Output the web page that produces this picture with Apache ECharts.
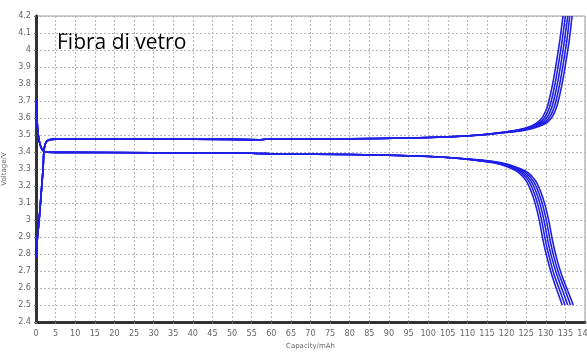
<!DOCTYPE html>
<html><head><meta charset="utf-8">
<script src="https://cdn.jsdelivr.net/npm/echarts@6/dist/echarts.min.js"></script>
<style>html,body{margin:0;padding:0;background:#fff}#c{width:587px;height:352px}</style>
</head><body><div id="c"></div>
<script>
const chartLabel = "Fibra di vetro";
const xName = "Capacity/mAh";
const yName = "Voltage/V";
const xTicks = {min: 0, max: 140, step: 5};
const yTicks = {min: 2.4, max: 4.2, step: 0.1};

const charge1 = [[0,2.78],[0.3,2.88],[0.8,3.0],[1.3,3.15],[1.8,3.3],[2.0,3.4],[2.4,3.45],[3.2,3.47],[5,3.476],[30,3.476],[50,3.474],[57,3.472],[60,3.477],[80,3.478],[95,3.482],[105,3.488],[113,3.50],[119,3.515],[123,3.53],[126,3.55],[128,3.575],[129.3,3.61],[130.3,3.66],[131.2,3.74],[132,3.83],[132.8,3.94],[133.6,4.06],[134.4,4.2]];
const charge2 = [[0,2.78],[0.3,2.88],[0.8,3.0],[1.3,3.15],[1.8,3.3],[2.0,3.4],[2.4,3.45],[3.2,3.47],[5,3.476],[30,3.476],[50,3.474],[57,3.472],[60,3.477],[80,3.478],[95,3.482],[105,3.489],[113,3.50],[119,3.516],[123.5,3.53],[126.5,3.55],[128.6,3.575],[129.9,3.61],[130.9,3.66],[131.8,3.74],[132.6,3.83],[133.4,3.94],[134.2,4.06],[135,4.2]];
const charge3 = [[0,2.78],[0.3,2.88],[0.8,3.0],[1.3,3.15],[1.8,3.3],[2.0,3.4],[2.4,3.45],[3.2,3.47],[5,3.476],[30,3.476],[50,3.474],[57,3.472],[60,3.477],[80,3.478],[95,3.482],[105,3.489],[113,3.50],[119.5,3.516],[124,3.53],[127,3.55],[129.2,3.575],[130.5,3.61],[131.5,3.66],[132.4,3.74],[133.2,3.83],[134,3.94],[134.8,4.06],[135.6,4.2]];
const charge4 = [[0,2.78],[0.3,2.88],[0.8,3.0],[1.3,3.15],[1.8,3.3],[2.0,3.4],[2.4,3.45],[3.2,3.47],[5,3.476],[30,3.476],[50,3.474],[57,3.472],[60,3.477],[80,3.478],[95,3.482],[105,3.49],[113.5,3.50],[120,3.516],[124.5,3.53],[127.6,3.55],[129.8,3.575],[131.1,3.61],[132.1,3.66],[133,3.74],[133.8,3.83],[134.6,3.94],[135.4,4.06],[136.1,4.2]];
const charge5 = [[0,2.78],[0.3,2.88],[0.8,3.0],[1.3,3.15],[1.8,3.3],[2.0,3.4],[2.4,3.45],[3.2,3.47],[5,3.476],[30,3.476],[50,3.474],[57,3.472],[60,3.477],[80,3.478],[95,3.482],[105,3.49],[114,3.50],[120.5,3.516],[125,3.53],[128.2,3.55],[130.4,3.575],[131.7,3.61],[132.7,3.66],[133.6,3.74],[134.4,3.83],[135.2,3.94],[136,4.06],[136.7,4.2]];

const discharge1 = [[0,3.71],[0.2,3.62],[0.4,3.54],[0.7,3.48],[1.1,3.44],[1.7,3.41],[2.5,3.40],[5,3.398],[30,3.396],[55,3.393],[62,3.388],[80,3.385],[95,3.378],[105,3.368],[112,3.352],[117,3.335],[120.5,3.31],[123,3.28],[125,3.23],[126.4,3.16],[127.5,3.08],[128.5,2.98],[129.3,2.88],[130.3,2.78],[131.5,2.68],[132.8,2.59],[134.2,2.5]];
const discharge2 = [[0,3.71],[0.2,3.62],[0.4,3.54],[0.7,3.48],[1.1,3.44],[1.7,3.41],[2.5,3.40],[5,3.398],[30,3.396],[55,3.393],[62,3.388],[80,3.385],[95,3.378],[105,3.368],[112,3.352],[117.5,3.335],[121,3.31],[123.6,3.28],[125.6,3.23],[127,3.16],[128.1,3.08],[129.1,2.98],[129.9,2.88],[130.9,2.78],[132.1,2.68],[133.5,2.59],[134.9,2.5]];
const discharge3 = [[0,3.71],[0.2,3.62],[0.4,3.54],[0.7,3.48],[1.1,3.44],[1.7,3.41],[2.5,3.40],[5,3.398],[30,3.396],[55,3.393],[62,3.388],[80,3.385],[95,3.378],[105,3.368],[112.5,3.352],[118,3.335],[121.5,3.31],[124.2,3.28],[126.2,3.23],[127.6,3.16],[128.7,3.08],[129.7,2.98],[130.5,2.88],[131.5,2.78],[132.8,2.68],[134.2,2.59],[135.6,2.5]];
const discharge4 = [[0,3.71],[0.2,3.62],[0.4,3.54],[0.7,3.48],[1.1,3.44],[1.7,3.41],[2.5,3.40],[5,3.398],[30,3.396],[55,3.393],[62,3.388],[80,3.385],[95,3.378],[105,3.368],[113,3.352],[118.5,3.335],[122,3.31],[124.8,3.28],[126.8,3.23],[128.2,3.16],[129.3,3.08],[130.3,2.98],[131.1,2.88],[132.1,2.78],[133.4,2.68],[134.9,2.59],[136.3,2.5]];
const discharge5 = [[0,3.71],[0.2,3.62],[0.4,3.54],[0.7,3.48],[1.1,3.44],[1.7,3.41],[2.5,3.40],[5,3.398],[30,3.396],[55,3.393],[62,3.388],[80,3.385],[95,3.378],[105,3.368],[113.5,3.352],[119,3.335],[122.5,3.31],[125.4,3.28],[127.4,3.23],[128.8,3.16],[129.9,3.08],[130.9,2.98],[131.7,2.88],[132.7,2.78],[134,2.68],[135.5,2.59],[137,2.5]];

const curves = [charge1, charge2, charge3, charge4, charge5, discharge1, discharge2, discharge3, discharge4, discharge5];

const chart = echarts.init(document.getElementById('c'), null, {renderer: 'canvas'});
const lineColor = '#1f1fe6';
chart.setOption({
  animation: false,
  backgroundColor: '#fff',
  grid: {left: 36, right: 2, top: 16, bottom: 30, containLabel: false, outerBoundsMode: 'none',
    show: true, borderColor: '#9a9a9a', borderWidth: 1, backgroundColor: 'transparent'},
  graphic: [{type: 'text', left: 57, top: 33, style: {text: chartLabel, font: '21px "Open Sans"', fill: '#000'}}],
  xAxis: {
    type: 'value', min: xTicks.min, max: xTicks.max, interval: xTicks.step,
    name: xName, nameLocation: 'middle', nameGap: 19,
    nameTextStyle: {fontSize: 7, color: '#666', fontFamily: 'DejaVu Sans'},
    axisLine: {show: true, lineStyle: {color: '#333', width: 3}},
    axisTick: {show: true, length: 2, lineStyle: {color: '#777'}},
    axisLabel: {fontSize: 9, color: '#666', margin: 7, fontFamily: 'DejaVu Sans Condensed', showMaxLabel: true, hideOverlap: false},
    splitLine: {show: true, lineStyle: {color: '#b5b5b5', type: [2, 2], width: 1}}
  },
  yAxis: {
    type: 'value', min: yTicks.min, max: yTicks.max, interval: yTicks.step,
    name: yName, nameLocation: 'middle', nameGap: 24, nameRotate: 90,
    nameTextStyle: {fontSize: 7, color: '#666', fontFamily: 'DejaVu Sans'},
    axisLine: {show: true, lineStyle: {color: '#333', width: 3}},
    axisTick: {show: true, length: 2, lineStyle: {color: '#777'}},
    axisLabel: {fontSize: 9, color: '#666', margin: 5, fontFamily: 'DejaVu Sans Condensed',
      formatter: v => String(+v.toFixed(1))},
    splitLine: {show: true, lineStyle: {color: '#b5b5b5', type: [2, 2], width: 1}}
  },
  series: curves.map(d => ({
    type: 'line', data: d, showSymbol: false, smooth: 0.2,
    lineStyle: {color: lineColor, width: 1.6}, clip: true
  }))
});
</script></body></html>
